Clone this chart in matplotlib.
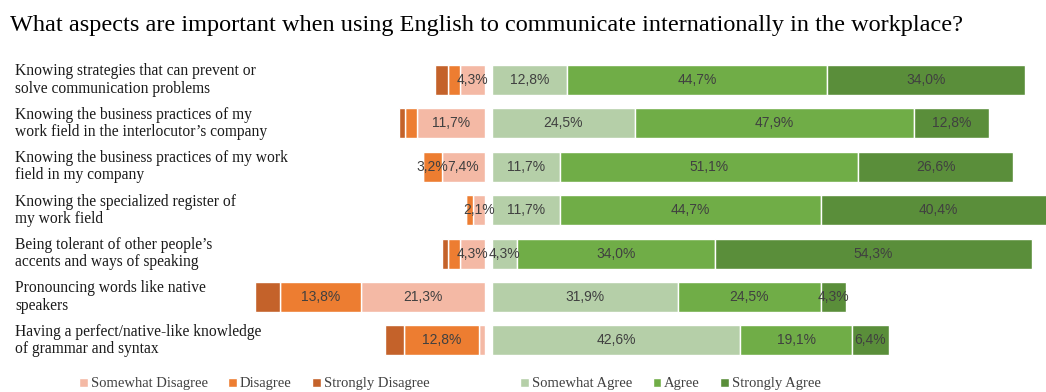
import numpy as np
import matplotlib
matplotlib.use("Agg")
import matplotlib.pyplot as plt

questions = [
    "Knowing strategies that can prevent or\nsolve communication problems",
    "Knowing the business practices of my\nwork field in the interlocutor\u2019s company",
    "Knowing the business practices of my work\nfield in my company",
    "Knowing the specialized register of\nmy work field",
    "Being tolerant of other people\u2019s\naccents and ways of speaking",
    "Pronouncing words like native\nspeakers",
    "Having a perfect/native-like knowledge\nof grammar and syntax",
]

somewhat_disagree = [4.3, 11.7, 7.4, 2.1, 4.3, 21.3, 1.1]
disagree = [2.1, 2.1, 3.2, 1.1, 2.1, 13.8, 12.8]
strongly_disagree = [2.1, 1.0, 0.0, 0.0, 1.0, 4.3, 3.2]
somewhat_agree = [12.8, 24.5, 11.7, 11.7, 4.3, 31.9, 42.6]
agree = [44.7, 47.9, 51.1, 44.7, 34.0, 24.5, 19.1]
strongly_agree = [34.0, 12.8, 26.6, 40.4, 54.3, 4.3, 6.4]

# which disagree-side values get a label (Excel hid the tiny ones)
show_sd = [True, True, True, True, True, True, False]
show_d = [False, False, True, False, False, True, True]
show_std = [False, False, False, False, False, False, False]

c_sd, c_d, c_std = "#F4B9A5", "#ED7D31", "#C4622A"
c_sa, c_a, c_sta = "#B5CFA8", "#70AD47", "#5A8E3A"

W, H = 1046, 392
fig = plt.figure(figsize=(W / 100, H / 100), dpi=100)
ax = fig.add_axes([0, 0, 1, 1])

px = 5.83      # pixels per percent
x0 = 488.5     # pixel position of the split
gap = 0.6
ax.set_xlim(-x0 / px, (W - x0) / px)
row0, step = 80, 43.4
ax.set_ylim((H - row0) / step, -row0 / step)
ax.axis("off")

y = np.arange(len(questions))
h = 0.69
kw = dict(height=h, edgecolor="white", linewidth=1.0)
lab_font = dict(fontsize=10, color="#404040", family="Liberation Sans",
                ha="center", va="center")

# disagree side, growing leftwards
sd = np.array(somewhat_disagree)
d = np.array(disagree)
std = np.array(strongly_disagree)
b1 = ax.barh(y, -sd, left=-gap, color=c_sd, label="Somewhat Disagree", **kw)
b2 = ax.barh(y, -d, left=-gap - sd, color=c_d, label="Disagree", **kw)
b3 = ax.barh(y, -std, left=-gap - sd - d, color=c_std, label="Strongly Disagree", **kw)

for vals, lefts, show in [(sd, -gap, show_sd), (d, -gap - sd, show_d),
                          (std, -gap - sd - d, show_std)]:
    lefts = np.broadcast_to(lefts, vals.shape)
    for i, (v, l, s) in enumerate(zip(vals, lefts, show)):
        if s and v > 0:
            ax.text(l - v / 2, i, f"{v:.1f}%".replace(".", ","), **lab_font)

# agree side
sa = np.array(somewhat_agree)
a = np.array(agree)
sta = np.array(strongly_agree)
b4 = ax.barh(y, sa, left=gap, color=c_sa, label="Somewhat Agree", **kw)
b5 = ax.barh(y, a, left=gap + sa, color=c_a, label="Agree", **kw)
b6 = ax.barh(y, sta, left=gap + sa + a, color=c_sta, label="Strongly Agree", **kw)

for vals, lefts in [(sa, gap + 0 * sa), (a, gap + sa), (sta, gap + sa + a)]:
    for i, (v, l) in enumerate(zip(vals, lefts)):
        ax.text(l + v / 2, i, f"{v:.1f}%".replace(".", ","), **lab_font)

# row labels
for i, q in enumerate(questions):
    fig.text(15 / W, 1 - (row0 + i * step) / H, q, family="Liberation Serif",
             fontsize=11.2, ha="left", va="center", linespacing=1.1,
             color="#1a1a1a")

fig.text(10 / W, 1 - 25 / H,
         "What aspects are important when using English to communicate "
         "internationally in the workplace?",
         family="Liberation Serif", fontsize=17.5, ha="left", va="center")

leg_kw = dict(ncol=3, frameon=False, handlelength=0.6, handleheight=0.6,
              handletextpad=0.2, columnspacing=1.4, borderpad=0,
              prop={"family": "Liberation Serif", "size": 10.5},
              labelcolor="#404040")
fig.legend(handles=[b1, b2, b3], loc="center left",
           bbox_to_anchor=(72 / W, 1 - 384 / H), **leg_kw)
fig.legend(handles=[b4, b5, b6], loc="center left",
           bbox_to_anchor=(513 / W, 1 - 384 / H), **leg_kw)

fig.savefig("out.png", dpi=100)
